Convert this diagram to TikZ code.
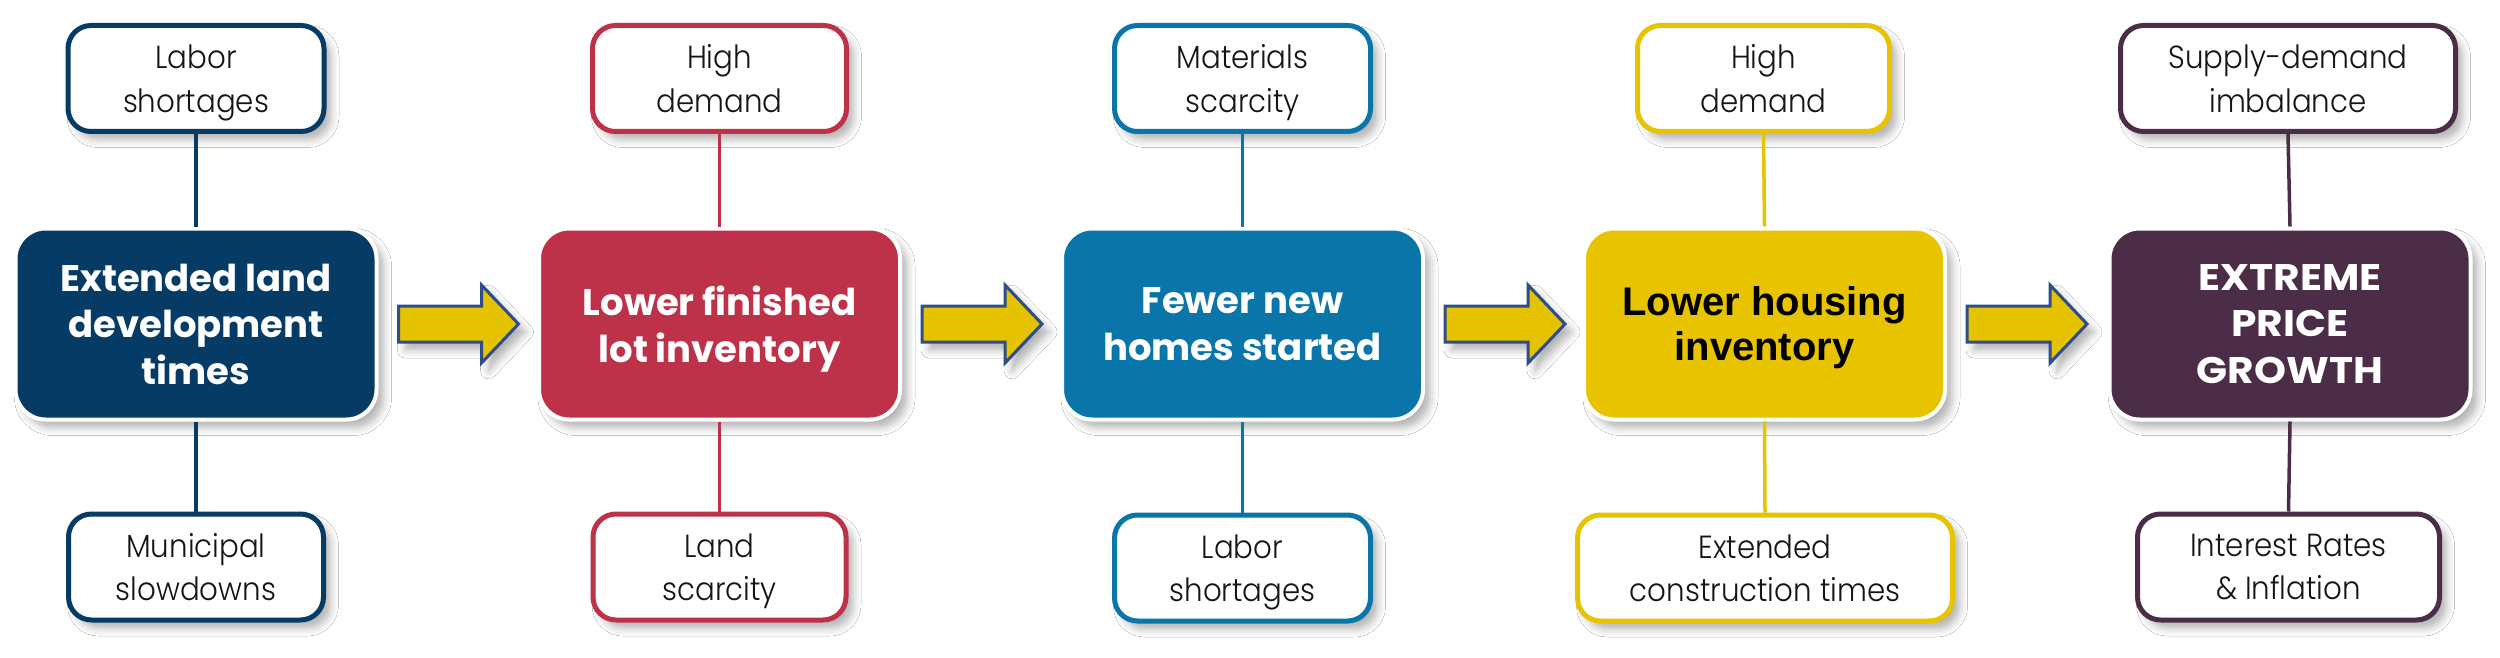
\documentclass[tikz,border=0pt]{standalone}
\usepackage{fontspec}
\setmainfont{Poppins}
\newfontfamily\smallf{Poppins Light}[FakeStretch=0.915]
\newfontfamily\widef{Poppins}[FakeStretch=1.1]
\newfontfamily\arialf{Liberation Sans}
\usetikzlibrary{calc,shadows.blur}
\definecolor{cnavy}{HTML}{053B64}
\definecolor{cred}{HTML}{BE3249}
\definecolor{cteal}{HTML}{0A75A8}
\definecolor{cyellow}{HTML}{E8C300}
\definecolor{cpurple}{HTML}{4B2D47}
\definecolor{arrfill}{HTML}{E6C300}
\definecolor{arrline}{HTML}{2F4D88}
\definecolor{txt}{HTML}{151515}
\newcommand\flowarrow[1]{%
  \draw[bigarrow] let \p1=($(#1.east)+(20pt,0pt)$) in
    (\x1,\y1+18pt) -- ++(83pt,0pt) -- ++(0pt,21pt) -- ++(37pt,-39pt)
    -- ++(-37pt,-39pt) -- ++(0pt,21pt) -- (\x1,\y1-18pt) -- cycle;}
\begin{document}
\begin{tikzpicture}[x=1pt,y=-1pt,
  shad/.style={blur shadow={shadow xshift=7pt, shadow yshift=-8pt, shadow blur radius=8pt, shadow opacity=30}},
  mainbox/.style={rounded corners=30pt, draw=white, line width=4pt, fill=#1,
    minimum height=191pt, minimum width=361pt, align=center,
    font=\bfseries\fontsize{37}{46.5}\selectfont, text depth=0pt,
    text=white, inner sep=0pt, shad},
  subbox/.style={rounded corners=23pt, draw=#1, line width=5pt, fill=white,
    minimum height=106pt, align=center, font=\smallf\fontsize{32}{43.5}\selectfont,
    text depth=0pt, text=txt, inner sep=0pt, shad},
  link/.style={draw=#1, line width=3.5pt},
  bigarrow/.style={fill=arrfill, draw=arrline, line width=3pt, line join=miter, shad}
]
\fill[white] (0,0) rectangle (2500,658);
\path[use as bounding box] (0,0) rectangle (2500,658);

% column 1
\node[mainbox=cnavy] (m1) at (196,324) {Extended land\\development\\times};
\node[subbox=cnavy, minimum width=256pt] (t1) at (196,78.5) {Labor\\shortages};
\node[subbox=cnavy, minimum width=255pt] (b1) at (196,567) {Municipal\\slowdowns};
% column 2
\node[mainbox=cred] (m2) at (719.5,324) {Lower finished\\lot inventory};
\node[subbox=cred, minimum width=254pt] (t2) at (719.5,78.5) {High\\demand};
\node[subbox=cred, minimum width=253pt] (b2) at (719.5,567) {Land\\scarcity};
% column 3
\node[mainbox=cteal] (m3) at (1242.5,324) {Fewer new\\homes started};
\node[subbox=cteal, minimum width=256pt] (t3) at (1242.5,78.5) {Materials\\scarcity};
\node[subbox=cteal, minimum width=256pt] (b3) at (1242.5,568) {Labor\\shortages};
% column 4
\node[mainbox=cyellow, text=black, font=\arialf\bfseries\fontsize{40}{45}\selectfont] (m4) at (1764.5,324) {Lower housing\\inventory};
\node[subbox=cyellow, minimum width=252pt] (t4) at (1763.5,78.5) {High\\demand};
\node[subbox=cyellow, minimum width=375pt] (b4) at (1765,568) {Extended\\construction times};
% column 5
\node[mainbox=cpurple, font=\widef\bfseries\fontsize{37}{46.5}\selectfont] (m5) at (2290,324) {EXTREME\\PRICE\\GROWTH};
\node[subbox=cpurple, minimum width=335pt] (t5) at (2288,78.5) {Supply-demand\\imbalance};
\node[subbox=cpurple, minimum width=302pt] (b5) at (2288.5,567) {Interest Rates\\\& Inflation};

% links
\foreach \i/\c in {1/cnavy,2/cred,3/cteal,4/cyellow,5/cpurple}{
  \draw[link=\c] (t\i.south) -- (m\i.north);
  \draw[link=\c] (m\i.south) -- (b\i.north);
}
% arrows
\flowarrow{m1}
\flowarrow{m2}
\flowarrow{m3}
\flowarrow{m4}
\end{tikzpicture}
\end{document}
